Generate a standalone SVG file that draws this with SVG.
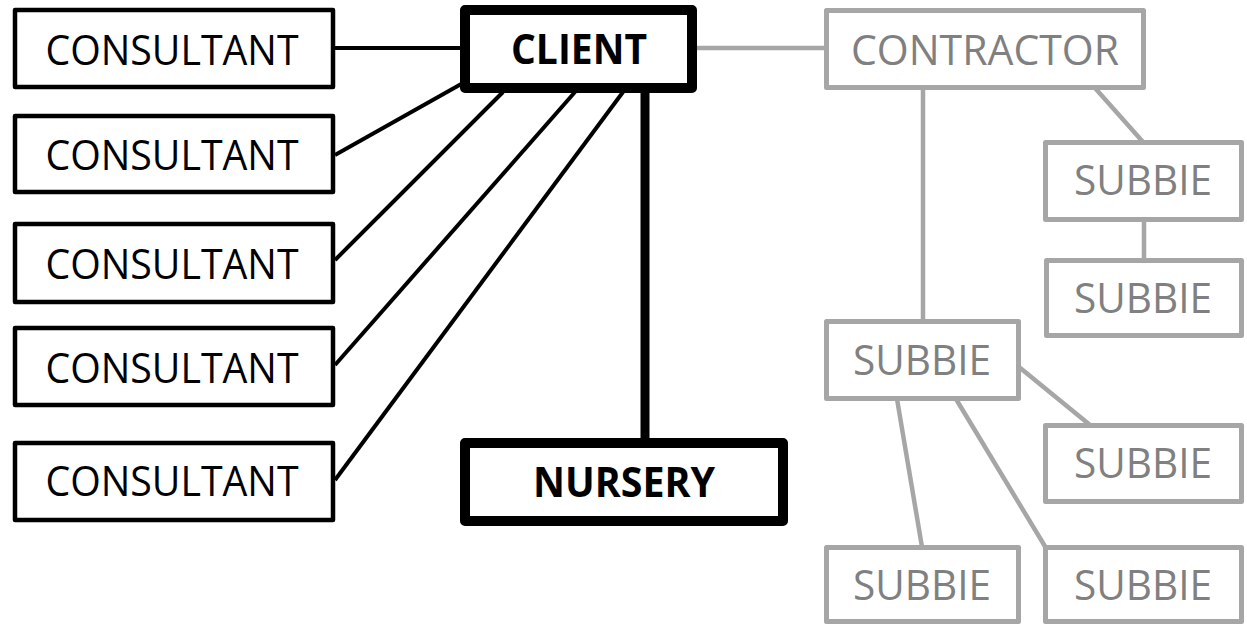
<svg xmlns="http://www.w3.org/2000/svg" width="1247" height="624" viewBox="0 0 1247 624">
  <style>
    .lbl { font-family: "Open Sans", "Noto Sans", sans-serif; font-size: 42px; text-anchor: middle; }
    .bold { font-weight: bold; }
    .dark rect { fill: #fff; stroke: #000; stroke-width: 4.5; stroke-linejoin: round; }
    .dark text { fill: #000; }
    .key rect { fill: #fff; stroke: #000; stroke-width: 10; stroke-linejoin: round; }
    .key text { fill: #000; }
    .grey rect { fill: #fff; stroke: #a6a6a6; stroke-width: 5; stroke-linejoin: round; }
    .grey text { fill: #808080; }
    .ln-black { stroke: #000; stroke-width: 4; fill: none; }
    .ln-thick { stroke: #000; stroke-width: 9; fill: none; }
    .ln-grey { stroke: #a6a6a6; stroke-width: 4.5; fill: none; }
  </style>

  <g id="connectors">
    <!-- client side -->
    <line class="ln-black" x1="335" y1="48" x2="462" y2="48"/>
    <line class="ln-black" x1="335" y1="155" x2="463" y2="83"/>
    <line class="ln-black" x1="335" y1="260" x2="503" y2="92"/>
    <line class="ln-black" x1="335" y1="365" x2="575" y2="92"/>
    <line class="ln-black" x1="335" y1="480" x2="623" y2="92"/>
    <line class="ln-thick" x1="645" y1="90" x2="645" y2="440"/>
    <!-- contractor side -->
    <line class="ln-grey" x1="695" y1="48" x2="826" y2="48"/>
    <line class="ln-grey" x1="923" y1="88" x2="923" y2="322"/>
    <line class="ln-grey" x1="1095" y1="88" x2="1143" y2="142"/>
    <line class="ln-grey" x1="1144" y1="220" x2="1144" y2="260"/>
    <line class="ln-grey" x1="1019" y1="367" x2="1090" y2="425"/>
    <line class="ln-grey" x1="897" y1="399" x2="922" y2="547"/>
    <line class="ln-grey" x1="956" y1="399" x2="1046" y2="548"/>
  </g>

  <g id="consultant-1" class="dark">
    <rect x="15" y="10" width="318" height="77"/>
    <text class="lbl" x="172" y="65" textLength="253" lengthAdjust="spacingAndGlyphs">CONSULTANT</text>
  </g>
  <g id="consultant-2" class="dark">
    <rect x="15" y="116" width="318" height="76"/>
    <text class="lbl" x="172" y="170" textLength="253" lengthAdjust="spacingAndGlyphs">CONSULTANT</text>
  </g>
  <g id="consultant-3" class="dark">
    <rect x="15" y="224" width="318" height="78"/>
    <text class="lbl" x="172" y="279" textLength="253" lengthAdjust="spacingAndGlyphs">CONSULTANT</text>
  </g>
  <g id="consultant-4" class="dark">
    <rect x="15" y="328" width="318" height="77"/>
    <text class="lbl" x="172" y="383" textLength="253" lengthAdjust="spacingAndGlyphs">CONSULTANT</text>
  </g>
  <g id="consultant-5" class="dark">
    <rect x="15" y="443" width="318" height="77"/>
    <text class="lbl" x="172" y="496" textLength="253" lengthAdjust="spacingAndGlyphs">CONSULTANT</text>
  </g>

  <g id="client" class="key">
    <rect x="465" y="10" width="227" height="78"/>
    <text class="lbl bold" x="579" y="64" textLength="136" lengthAdjust="spacingAndGlyphs">CLIENT</text>
  </g>
  <g id="nursery" class="key">
    <rect x="465" y="443" width="318" height="78"/>
    <text class="lbl bold" x="624" y="497" textLength="182" lengthAdjust="spacingAndGlyphs">NURSERY</text>
  </g>

  <g id="contractor" class="grey">
    <rect x="826.5" y="10.5" width="317" height="77"/>
    <text class="lbl" x="985" y="65" textLength="268" lengthAdjust="spacingAndGlyphs">CONTRACTOR</text>
  </g>
  <g id="subbie-a" class="grey">
    <rect x="1045.5" y="142.5" width="196" height="77"/>
    <text class="lbl" x="1143" y="195" textLength="138" lengthAdjust="spacingAndGlyphs">SUBBIE</text>
  </g>
  <g id="subbie-b" class="grey">
    <rect x="1046.5" y="260.5" width="195" height="75"/>
    <text class="lbl" x="1143" y="313" textLength="138" lengthAdjust="spacingAndGlyphs">SUBBIE</text>
  </g>
  <g id="subbie-c" class="grey">
    <rect x="826.5" y="321.5" width="192" height="77"/>
    <text class="lbl" x="922" y="375" textLength="138" lengthAdjust="spacingAndGlyphs">SUBBIE</text>
  </g>
  <g id="subbie-d" class="grey">
    <rect x="1045.5" y="425.5" width="196" height="76"/>
    <text class="lbl" x="1143" y="478" textLength="138" lengthAdjust="spacingAndGlyphs">SUBBIE</text>
  </g>
  <g id="subbie-e" class="grey">
    <rect x="826.5" y="547.5" width="192" height="74"/>
    <text class="lbl" x="922" y="600" textLength="138" lengthAdjust="spacingAndGlyphs">SUBBIE</text>
  </g>
  <g id="subbie-f" class="grey">
    <rect x="1045.5" y="547.5" width="196" height="74"/>
    <text class="lbl" x="1143" y="600" textLength="138" lengthAdjust="spacingAndGlyphs">SUBBIE</text>
  </g>
</svg>
